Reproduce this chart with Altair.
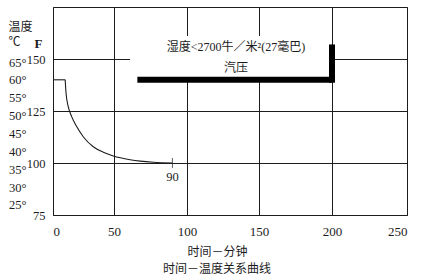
import altair as alt
import pandas as pd

# ---- data ----
x_ticks = [0, 50, 100, 150, 200, 250]
f_ticks = [75, 100, 125, 150]
c_ticks = [25, 30, 35, 40, 45, 50, 55, 60, 65]

# holding segment (constant 140 F) then cooling curve
hold_t = [0, 10]
hold_f = [140, 140]
curve_t = [10, 10.7, 12.5, 15.3, 19.4, 24.8, 33, 41.2, 49.4, 61, 68, 77, 90]
curve_f = [140, 133.5, 127.1, 122.3, 117.5, 112.6, 107.8, 105.2, 103.4, 101.6, 100.9, 100.35, 100]

end_t = [90]
end_f = [100]
end_label = ["90"]

note_lines = ["湿度<2700牛／米²(27毫巴)", "汽压"]

# ---- styling constants ----
SERIF = "Liberation Serif, Times New Roman, serif"
CJK = "Liberation Serif, Noto Sans CJK SC, sans-serif"
INK = "#1c1c1c"

xscale = alt.Scale(domain=x_ticks, range=[0, 61, 134, 206, 279, 354])
yscale = alt.Scale(domain=[75, 175])

hold_df = pd.DataFrame({"t": hold_t, "f": hold_f})
curve_df = pd.DataFrame({"t": curve_t, "f": curve_f})
end_df = pd.DataFrame({"t": end_t, "f": end_f, "label": end_label})
c_df = pd.DataFrame({"c": c_ticks})

x_axis = alt.Axis(values=x_ticks, grid=True, gridColor=INK, gridWidth=1,
                  ticks=False, domain=False, labelPadding=10,
                  labelFont=SERIF, labelFontSize=13, labelColor=INK,
                  title="时间－分钟", titleFont=CJK, titleFontSize=12,
                  titleFontWeight="normal", titleColor=INK,
                  titleX=164, titleY=36, titleBaseline="middle")
f_axis = alt.Axis(orient="left", values=f_ticks, grid=True, gridColor=INK, gridWidth=1,
                  ticks=False, domain=False, labelPadding=8,
                  labelFont=SERIF, labelFontSize=12.5, labelColor=INK,
                  title="F", titleFont=SERIF, titleFontSize=13, titleFontWeight="bold",
                  titleColor=INK, titleAngle=0, titleAlign="center",
                  titleBaseline="middle", titleX=-15, titleY=36)

hold = alt.Chart(hold_df).mark_line(color=INK, strokeWidth=1.1).encode(
    x=alt.X("t:Q", scale=xscale, axis=x_axis),
    y=alt.Y("f:Q", scale=yscale, axis=f_axis),
)
curve = alt.Chart(curve_df).mark_line(color=INK, strokeWidth=1.1, interpolate="monotone").encode(
    x=alt.X("t:Q", scale=xscale),
    y=alt.Y("f:Q", scale=yscale),
)

tick = alt.Chart(end_df).mark_tick(orient="vertical", size=10, thickness=1, color=INK).encode(
    x=alt.X("t:Q", scale=xscale),
    y=alt.Y("f:Q", scale=yscale),
)
tick_label = alt.Chart(end_df).mark_text(dy=14, font=SERIF, fontSize=12.5, color=INK).encode(
    x=alt.X("t:Q", scale=xscale),
    y=alt.Y("f:Q", scale=yscale),
    text="label:N",
)

# annotation box
box_df = pd.DataFrame({"x": [61], "x2": [200], "y": [140], "y2": [161]})
box = alt.Chart(box_df).mark_rect(fill="white").encode(
    x=alt.X("x:Q", scale=xscale), x2="x2:Q",
    y=alt.Y("y:Q", scale=yscale), y2="y2:Q",
)
hbar_df = pd.DataFrame({"x": [66], "x2": [200], "y": [140]})
hbar = alt.Chart(hbar_df).mark_rule(color="black", strokeWidth=6).encode(
    x=alt.X("x:Q", scale=xscale), x2="x2:Q",
    y=alt.Y("y:Q", scale=yscale),
)
vbar_df = pd.DataFrame({"x": [200], "y": [138.6], "y2": [157]})
vbar = alt.Chart(vbar_df).mark_rule(color="black", strokeWidth=6).encode(
    x=alt.X("x:Q", scale=xscale),
    y=alt.Y("y:Q", scale=yscale), y2="y2:Q",
)
note_df = pd.DataFrame({"x": [134, 134], "y": [155.9, 145.5], "label": note_lines})
note = alt.Chart(note_df).mark_text(font=CJK, fontSize=12, color=INK).encode(
    x=alt.X("x:Q", scale=xscale),
    y=alt.Y("y:Q", scale=yscale),
    text="label:N",
)

# Celsius axis (independent scale on the left)
cel = alt.Chart(c_df).mark_point(opacity=0).encode(
    y=alt.Y("c:Q", scale=alt.Scale(domain=[22.2, 80.4]),
            axis=alt.Axis(orient="left", values=c_ticks, labelExpr="datum.value + '°'",
                          grid=False, ticks=False, domain=False, labelPadding=27,
                          labelFont=SERIF, labelFontSize=12.5, labelColor=INK,
                          title=["温度", "℃"], titleFont=CJK, titleFontSize=12,
                          titleFontWeight="normal", titleColor=INK, titleAngle=0,
                          titleAlign="left", titleBaseline="top", titleLineHeight=15,
                          titleX=-45, titleY=14)),
)

main = alt.layer(hold, curve, box, hbar, vbar, note, tick, tick_label)

chart = alt.layer(main, cel).resolve_scale(y="independent").properties(
    width=354, height=208,
    autosize=alt.AutoSizeParams(type="none"),
    padding={"left": 53, "top": 7, "right": 17, "bottom": 65},
    title=alt.TitleParams("时间－温度关系曲线", orient="bottom", font=CJK, fontSize=12,
                          fontWeight="normal", color=INK, dx=-13, offset=7),
    background="white",
).configure_view(stroke=INK, strokeWidth=1)

chart.save("out.html", embed_options={"renderer": "svg", "actions": False})
